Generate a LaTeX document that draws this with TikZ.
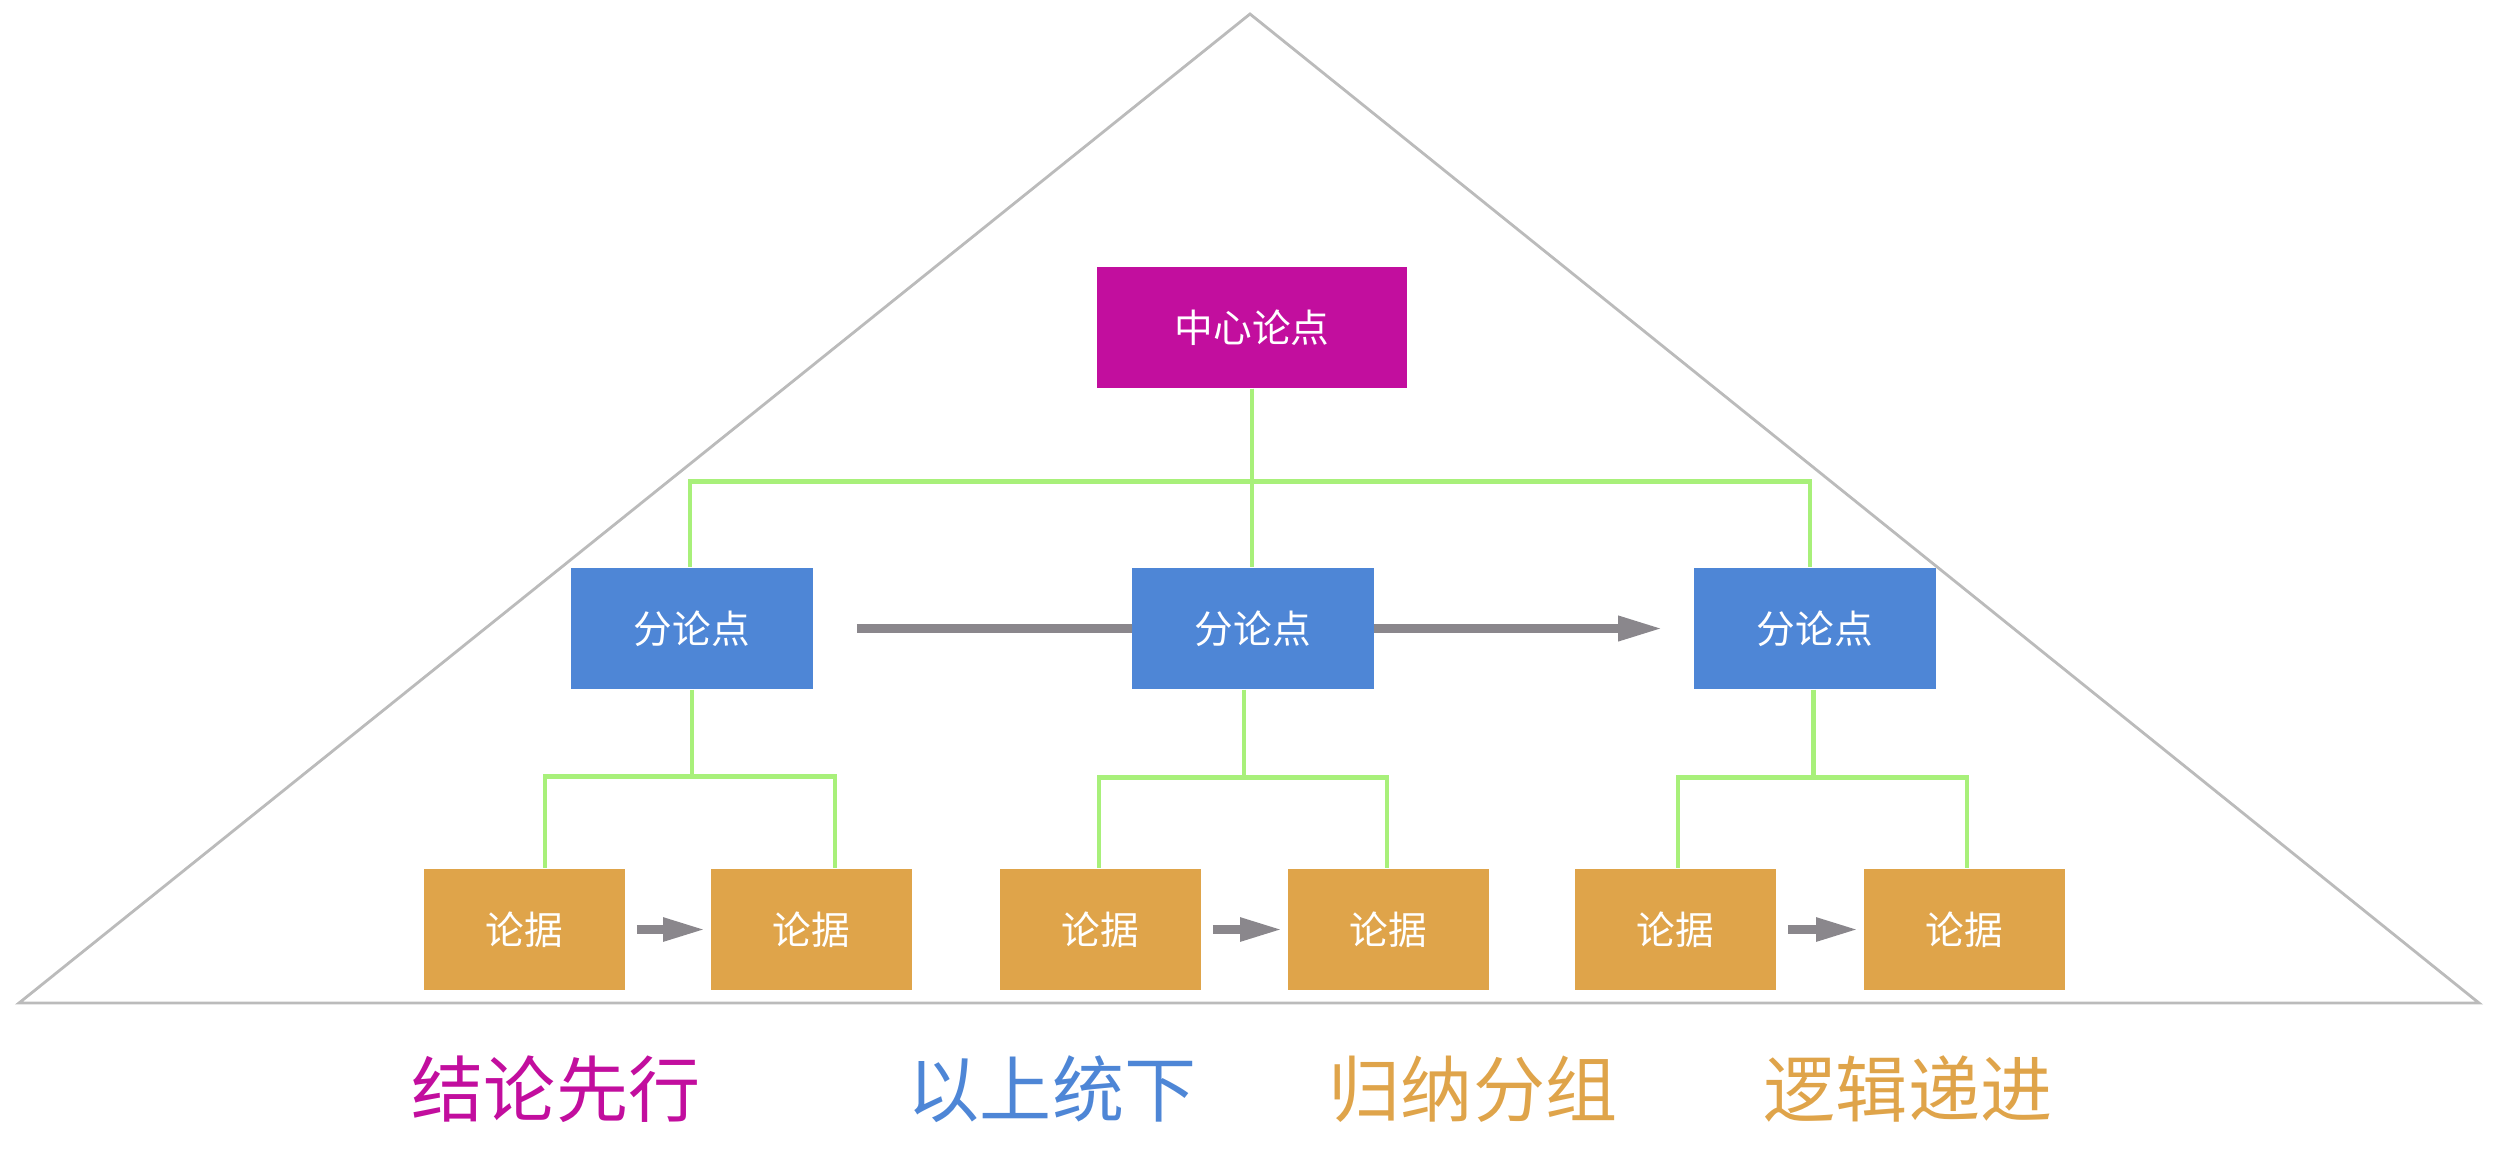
\documentclass[tikz,border=0pt]{standalone}
\usepackage{fontspec}
\setmainfont{Noto Sans CJK SC}
\usetikzlibrary{arrows.meta}

\definecolor{mainmag}{HTML}{C20E9E}
\definecolor{subblue}{HTML}{4E86D6}
\definecolor{evorange}{HTML}{DFA44A}
\definecolor{linkgreen}{HTML}{A8F07A}
\definecolor{flowgray}{HTML}{8A878C}
\definecolor{edgegray}{HTML}{BBBBBB}

\tikzset{
  box/.style={rectangle, draw=none, text=white, font=\fontsize{11}{13}\selectfont,
              inner sep=0pt, minimum height=1.21cm},
  topbox/.style={box, fill=mainmag, minimum width=3.09cm},
  midbox/.style={box, fill=subblue, minimum width=2.42cm},
  leafbox/.style={box, fill=evorange, minimum width=2.01cm},
  conn/.style={draw=linkgreen, line width=1.3pt},
  flowbig/.style={draw=flowgray, line width=2.6pt,
                  -{Triangle[length=0.45cm,width=0.23cm]}},
  flowsmall/.style={draw=flowgray, line width=2.3pt,
                    -{Triangle[length=0.42cm,width=0.22cm]}},
  motto/.style={font=\fontsize{20.5}{24}\selectfont}
}

\begin{document}
\begin{tikzpicture}[x=0.01cm, y=-0.01cm]
  \useasboundingbox (0,0) rectangle (2500,1148);

  % pyramid outline
  \draw[edgegray, line width=0.8pt, line join=miter] (19,1003) -- (1250,14) -- (2479,1003) -- cycle;

  % central claim and outer sub-points
  \node[topbox]  (c)  at (1252,327.5) {中心论点};
  \node[midbox]  (b1) at (692,628.5)  {分论点};
  \node[midbox]  (b3) at (1815,628.5) {分论点};

  % progression arrow among the sub-points, running behind the middle box
  \draw[flowbig] ([xshift=0.43cm]b1.east) -- ([xshift=-0.30cm]b3.west);
  \node[midbox]  (b2) at (1253,628.5) {分论点};

  % evidence
  \node[leafbox] (o1) at (524.5,929.5)  {论据};
  \node[leafbox] (o2) at (811.5,929.5)  {论据};
  \node[leafbox] (o3) at (1100.5,929.5) {论据};
  \node[leafbox] (o4) at (1388.5,929.5) {论据};
  \node[leafbox] (o5) at (1675.5,929.5) {论据};
  \node[leafbox] (o6) at (1964.5,929.5) {论据};

  % tree links
  \draw[conn] (c.south) -- ++(0,93) -| ([xshift=-0.02cm]b1.north);
  \draw[conn] (c.south) -- ++(0,93) -| ([xshift=-0.05cm]b3.north);
  \draw[conn] (c.south) -- (c.south |- b2.north);

  \draw[conn] (b1.south) -- ++(0,87) -| ([xshift=0.205cm]o1.north);
  \draw[conn] (b1.south) -- ++(0,87) -| ([xshift=0.235cm]o2.north);
  \draw[conn] ([xshift=-0.09cm]b2.south) -- ++(0,88) -| ([xshift=-0.015cm]o3.north);
  \draw[conn] ([xshift=-0.09cm]b2.south) -- ++(0,88) -| ([xshift=-0.015cm]o4.north);
  \draw[conn] ([xshift=-0.015cm]b3.south) -- ++(0,88) -| ([xshift=0.025cm]o5.north);
  \draw[conn] ([xshift=-0.015cm]b3.south) -- ++(0,88) -| ([xshift=0.025cm]o6.north);

  % progression arrows among the evidence
  \draw[flowsmall] ([xshift=0.11cm]o1.east) -- ([xshift=-0.05cm]o2.west);
  \draw[flowsmall] ([xshift=0.11cm]o3.east) -- ([xshift=-0.05cm]o4.west);
  \draw[flowsmall] ([xshift=0.11cm]o5.east) -- ([xshift=-0.05cm]o6.west);

  % principles
  \node[motto, text=mainmag]  (p1) at (556,1089)  {结论先行};
  \node[motto, text=subblue]  (p2) at (1052,1089) {以上统下};
  \node[motto, text=evorange] (p3) at (1473,1089) {归纳分组};
  \node[motto, text=evorange] (p4) at (1908,1089) {逻辑递进};
\end{tikzpicture}
\end{document}
